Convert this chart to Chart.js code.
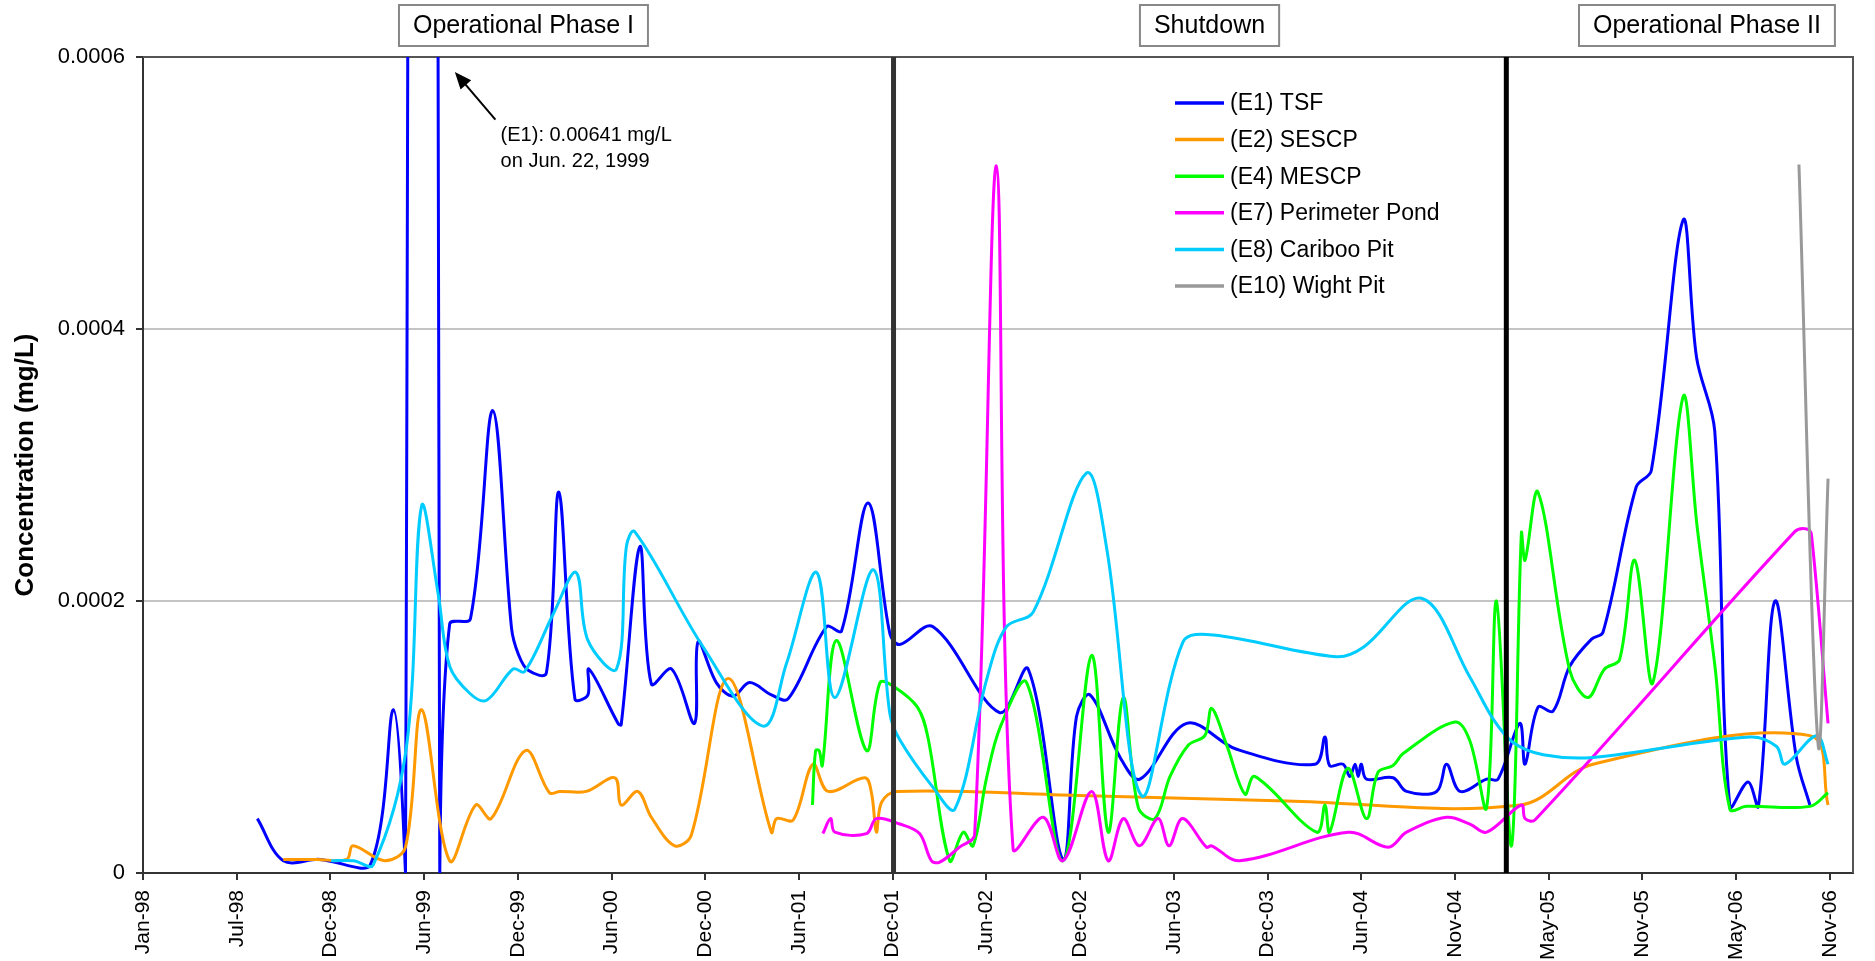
<!DOCTYPE html>
<html><head><meta charset="utf-8">
<script src="https://cdn.jsdelivr.net/npm/chart.js@4.4.0/dist/chart.umd.min.js"></script>
<style>html,body{margin:0;padding:0;background:#fff;}</style>
</head><body>
<canvas id="c" width="1875" height="961" style="display:block;width:1875px;height:961px"></canvas>
<script>
const FONT = "'Liberation Sans', Arial, Helvetica, sans-serif";

// x axis: days since the axis start (Jan-98), ticks every ~180.3 days
const tickLabels = ['Jan-98','Jul-98','Dec-98','Jun-99','Dec-99','Jun-00','Dec-00','Jun-01','Dec-01','Jun-02','Dec-02','Jun-03','Dec-03','Jun-04','Nov-04','May-05','Nov-05','May-06','Nov-06'];
const TICK_STEP_DAYS = 180.3;
const X_MAX_DAYS = 3290;
const yTickValues = [0, 0.0002, 0.0004, 0.0006];
const yTickLabels = ['0', '0.0002', '0.0004', '0.0006'];

const seriesNames = ['(E1) TSF','(E2) SESCP','(E4) MESCP','(E7) Perimeter Pond','(E8) Cariboo Pit','(E10) Wight Pit'];
const seriesColors = ['#0000ff','#ff9900','#00ff00','#ff00ff','#00ccff','#999999'];

const tsfDays = [220,270,340,436,482,505,537,571,590,630,673,709,722,741,776,800,831,856,858,914,920,956,978,1017,1061,1068,1103,1135,1167,1209,1241,1315,1344,1395,1437,1456,1520,1648,1703,1770,1796,1822,1880,1918,2008,2104,2255,2274,2283,2309,2322,2332,2338,2344,2354,2405,2431,2489,2508,2534,2585,2607,2649,2659,2684,2713,2745,2787,2809,2873,2902,2963,2989,3024,3053,3088,3108,3140,3181,3207];
const tsfConc = [40e-6,9e-6,10e-6,5e-6,120e-6,0,6410e-6,0,183e-6,187e-6,340e-6,180e-6,161e-6,149e-6,147e-6,280e-6,128e-6,131e-6,150e-6,110e-6,109e-6,240e-6,139e-6,150e-6,110e-6,170e-6,140e-6,130e-6,140e-6,131e-6,128e-6,181e-6,178e-6,272e-6,176e-6,168e-6,181e-6,118e-6,150e-6,10e-6,115e-6,131e-6,85e-6,69e-6,110e-6,91e-6,80e-6,100e-6,79e-6,80e-6,71e-6,80e-6,71e-6,80e-6,69e-6,70e-6,60e-6,60e-6,80e-6,60e-6,69e-6,69e-6,110e-6,80e-6,122e-6,119e-6,152e-6,172e-6,177e-6,284e-6,296e-6,480e-6,379e-6,325e-6,49e-6,67e-6,49e-6,200e-6,85e-6,50e-6];

const sescpDays = [270,335,392,404,465,505,536,590,640,670,736,782,802,853,908,920,952,978,1023,1055,1126,1209,1219,1251,1289,1318,1389,1402,1411,1421,1450,1800,2200,2650,2790,3207,3242];
const sescpConc = [10e-6,10e-6,10e-6,20e-6,9e-6,19e-6,120e-6,9e-6,50e-6,40e-6,90e-6,59e-6,60e-6,60e-6,70e-6,50e-6,60e-6,41e-6,20e-6,28e-6,143e-6,30e-6,40e-6,39e-6,80e-6,60e-6,70e-6,58e-6,30e-6,52e-6,60e-6,57e-6,53e-6,50e-6,80e-6,101e-6,50e-6];

const mescpDays = [1288,1294,1301,1307,1334,1392,1418,1445,1490,1510,1552,1578,1597,1623,1650,1700,1770,1825,1857,1886,1915,1947,1976,2011,2043,2056,2085,2120,2139,2258,2274,2283,2318,2354,2376,2405,2425,2524,2553,2585,2604,2633,2652,2659,2684,2745,2780,2812,2841,2870,2905,2963,2990,3025,3053,3085,3207,3242];
const mescpConc = [50e-6,90e-6,90e-6,79e-6,171e-6,90e-6,140e-6,137e-6,122e-6,100e-6,9e-6,30e-6,20e-6,70e-6,108e-6,140e-6,9e-6,160e-6,30e-6,129e-6,48e-6,40e-6,71e-6,94e-6,101e-6,121e-6,94e-6,58e-6,71e-6,30e-6,50e-6,30e-6,77e-6,40e-6,74e-6,79e-6,88e-6,111e-6,97e-6,48e-6,200e-6,20e-6,250e-6,230e-6,280e-6,149e-6,129e-6,150e-6,157e-6,230e-6,140e-6,350e-6,255e-6,150e-6,47e-6,49e-6,49e-6,59e-6];

const pondDays = [1308,1323,1331,1392,1411,1456,1494,1517,1533,1571,1600,1642,1674,1732,1770,1825,1857,1886,1917,1953,1974,2000,2046,2056,2110,2319,2396,2431,2508,2553,2585,2652,2659,2678,3178,3201,3210,3242];
const pondConc = [29e-6,40e-6,30e-6,29e-6,40e-6,36e-6,29e-6,9e-6,8e-6,19e-6,28e-6,520e-6,18e-6,41e-6,9e-6,60e-6,9e-6,40e-6,20e-6,40e-6,20e-6,40e-6,19e-6,20e-6,9e-6,30e-6,19e-6,30e-6,41e-6,36e-6,30e-6,50e-6,40e-6,39e-6,251e-6,253e-6,249e-6,110e-6];

const caribooDays = [362,405,443,507,536,568,590,629,661,712,734,790,833,856,911,930,946,1078,1193,1238,1296,1331,1405,1437,1456,1520,1562,1623,1661,1713,1815,1854,1921,2001,2059,2296,2348,2460,2553,2598,2636,2694,2790,3092,3143,3159,3220,3242];
const caribooConc = [9e-6,9e-6,6e-6,93e-6,270e-6,205e-6,152e-6,132e-6,127e-6,150e-6,148e-6,191e-6,221e-6,171e-6,150e-6,240e-6,251e-6,166e-6,108e-6,154e-6,221e-6,129e-6,223e-6,117e-6,98e-6,63e-6,47e-6,142e-6,181e-6,192e-6,294e-6,239e-6,57e-6,170e-6,175e-6,159e-6,166e-6,202e-6,144e-6,113e-6,96e-6,87e-6,85e-6,100e-6,93e-6,80e-6,101e-6,80e-6];

const wightDays = [3186,3223,3242];
const wightConc = [521e-6,94e-6,290e-6];

const phaseLineDays = [1444, 2623];
const phaseLineColors = ['#333333', '#000000'];
const phaseNames = ['Operational Phase I', 'Shutdown', 'Operational Phase II'];
const phaseLabelDays = [732, 2052, 3009];

const annotationLines = ['(E1): 0.00641 mg/L', 'on Jun. 22, 1999'];
const annotationTip = {x: 600, y: 589e-6};
const annotationTail = {x: 678, y: 554e-6};
const annotationTextPos = {x: 688, y1: 538e-6, y2: 519e-6};

const seriesDays = [tsfDays, sescpDays, mescpDays, pondDays, caribooDays, wightDays];
const seriesConc = [tsfConc, sescpConc, mescpConc, pondConc, caribooConc, wightConc];

const datasets = seriesDays.map((days, i) => ({
  label: seriesNames[i],
  data: days.map((d, j) => ({x: d, y: seriesConc[i][j]})),
  borderColor: seriesColors[i],
  backgroundColor: seriesColors[i],
  borderWidth: 3,
  pointRadius: 0,
  tension: 0.35,
  fill: false,
  order: 10 - i
}));
phaseLineDays.forEach((d, k) => datasets.push({
  label: 'phase' + k,
  data: [{x: d, y: 0}, {x: d, y: 0.0006}],
  borderColor: phaseLineColors[k],
  borderWidth: 5,
  pointRadius: 0,
  tension: 0,
  order: 0
}));

const framePlugin = {
  id: 'frame',
  beforeDatasetsDraw(chart) {
    const {ctx, chartArea: a} = chart;
    ctx.save();
    ctx.strokeStyle = '#555';
    ctx.lineWidth = 2;
    ctx.beginPath();
    ctx.moveTo(a.left, a.top); ctx.lineTo(a.right, a.top); ctx.lineTo(a.right, a.bottom);
    ctx.stroke();
    ctx.restore();
  }
};

const decorPlugin = {
  id: 'decor',
  afterDraw(chart) {
    const ctx = chart.ctx;
    const xs = chart.scales.x, ys = chart.scales.y;
    ctx.save();
    // phase labels
    ctx.font = `25px ${FONT}`;
    ctx.textAlign = 'center';
    ctx.textBaseline = 'middle';
    phaseNames.forEach((t, i) => {
      const cx = xs.getPixelForValue(phaseLabelDays[i]);
      const w = ctx.measureText(t).width + 28;
      const top = 5, h = 41;
      ctx.fillStyle = '#fff';
      ctx.fillRect(cx - w / 2, top, w, h);
      ctx.strokeStyle = '#888';
      ctx.lineWidth = 2;
      ctx.strokeRect(cx - w / 2, top, w, h);
      ctx.fillStyle = '#000';
      ctx.fillText(t, cx, top + h / 2 + 1);
    });
    // annotation arrow
    const tx = xs.getPixelForValue(annotationTip.x), ty = ys.getPixelForValue(annotationTip.y);
    const sx = xs.getPixelForValue(annotationTail.x), sy = ys.getPixelForValue(annotationTail.y);
    const ang = Math.atan2(ty - sy, tx - sx);
    const hl = 17, hw = 7;
    ctx.strokeStyle = '#000';
    ctx.lineWidth = 2;
    ctx.beginPath();
    ctx.moveTo(sx, sy);
    ctx.lineTo(tx - Math.cos(ang) * hl * 0.8, ty - Math.sin(ang) * hl * 0.8);
    ctx.stroke();
    ctx.fillStyle = '#000';
    ctx.beginPath();
    ctx.moveTo(tx, ty);
    ctx.lineTo(tx - Math.cos(ang) * hl + Math.sin(ang) * hw, ty - Math.sin(ang) * hl - Math.cos(ang) * hw);
    ctx.lineTo(tx - Math.cos(ang) * hl - Math.sin(ang) * hw, ty - Math.sin(ang) * hl + Math.cos(ang) * hw);
    ctx.closePath();
    ctx.fill();
    ctx.font = `20px ${FONT}`;
    ctx.textAlign = 'left';
    ctx.textBaseline = 'alphabetic';
    const ax = xs.getPixelForValue(annotationTextPos.x);
    ctx.fillText(annotationLines[0], ax, ys.getPixelForValue(annotationTextPos.y1));
    ctx.fillText(annotationLines[1], ax, ys.getPixelForValue(annotationTextPos.y2));
    // legend
    ctx.font = `23px ${FONT}`;
    ctx.textBaseline = 'middle';
    seriesNames.forEach((name, i) => {
      const y = 103 + i * 36.6;
      ctx.strokeStyle = seriesColors[i];
      ctx.lineWidth = 3.5;
      ctx.beginPath(); ctx.moveTo(1175, y); ctx.lineTo(1224, y); ctx.stroke();
      ctx.fillStyle = '#000';
      ctx.fillText(name, 1230, y + 1);
    });
    ctx.restore();
  }
};

new Chart(document.getElementById('c'), {
  type: 'line',
  data: {datasets},
  options: {
    responsive: false,
    animation: false,
    devicePixelRatio: 1,
    events: [],
    layout: {padding: {top: 57, right: 22, left: 0, bottom: 0}},
    plugins: {legend: {display: false}, tooltip: {enabled: false}, title: {display: false}},
    scales: {
      x: {
        type: 'linear',
        min: 0,
        max: X_MAX_DAYS,
        afterBuildTicks: s => { s.ticks = tickLabels.map((l, i) => ({value: i * TICK_STEP_DAYS})); },
        afterFit: s => { s.height = 88; },
        ticks: {
          callback: (v, i) => tickLabels[i],
          autoSkip: false,
          minRotation: 90,
          maxRotation: 90,
          padding: 10,
          color: '#000',
          font: {family: FONT, size: 21}
        },
        grid: {drawOnChartArea: false, drawTicks: true, tickLength: 7, tickColor: '#333', lineWidth: 2},
        border: {display: true, color: '#333', width: 2}
      },
      y: {
        min: 0,
        max: 0.0006,
        afterBuildTicks: s => { s.ticks = yTickValues.map(v => ({value: v})); },
        afterFit: s => { s.width = 143; },
        ticks: {
          callback: (v, i) => yTickLabels[i],
          padding: 11,
          color: '#000',
          font: {family: FONT, size: 22}
        },
        grid: {
          color: c => (c.index === 0 ? 'rgba(0,0,0,0)' : (c.index === 3 ? '#555' : '#c4c4c4')),
          lineWidth: 2,
          drawTicks: true,
          tickLength: 7,
          tickColor: '#333'
        },
        border: {display: true, color: '#333', width: 2},
        title: {
          display: true,
          text: 'Concentration (mg/L)',
          color: '#000',
          font: {family: FONT, size: 26, weight: 'bold'},
          padding: {top: 10, bottom: 0}
        }
      }
    }
  },
  plugins: [framePlugin, decorPlugin]
});
</script>
</body></html>
